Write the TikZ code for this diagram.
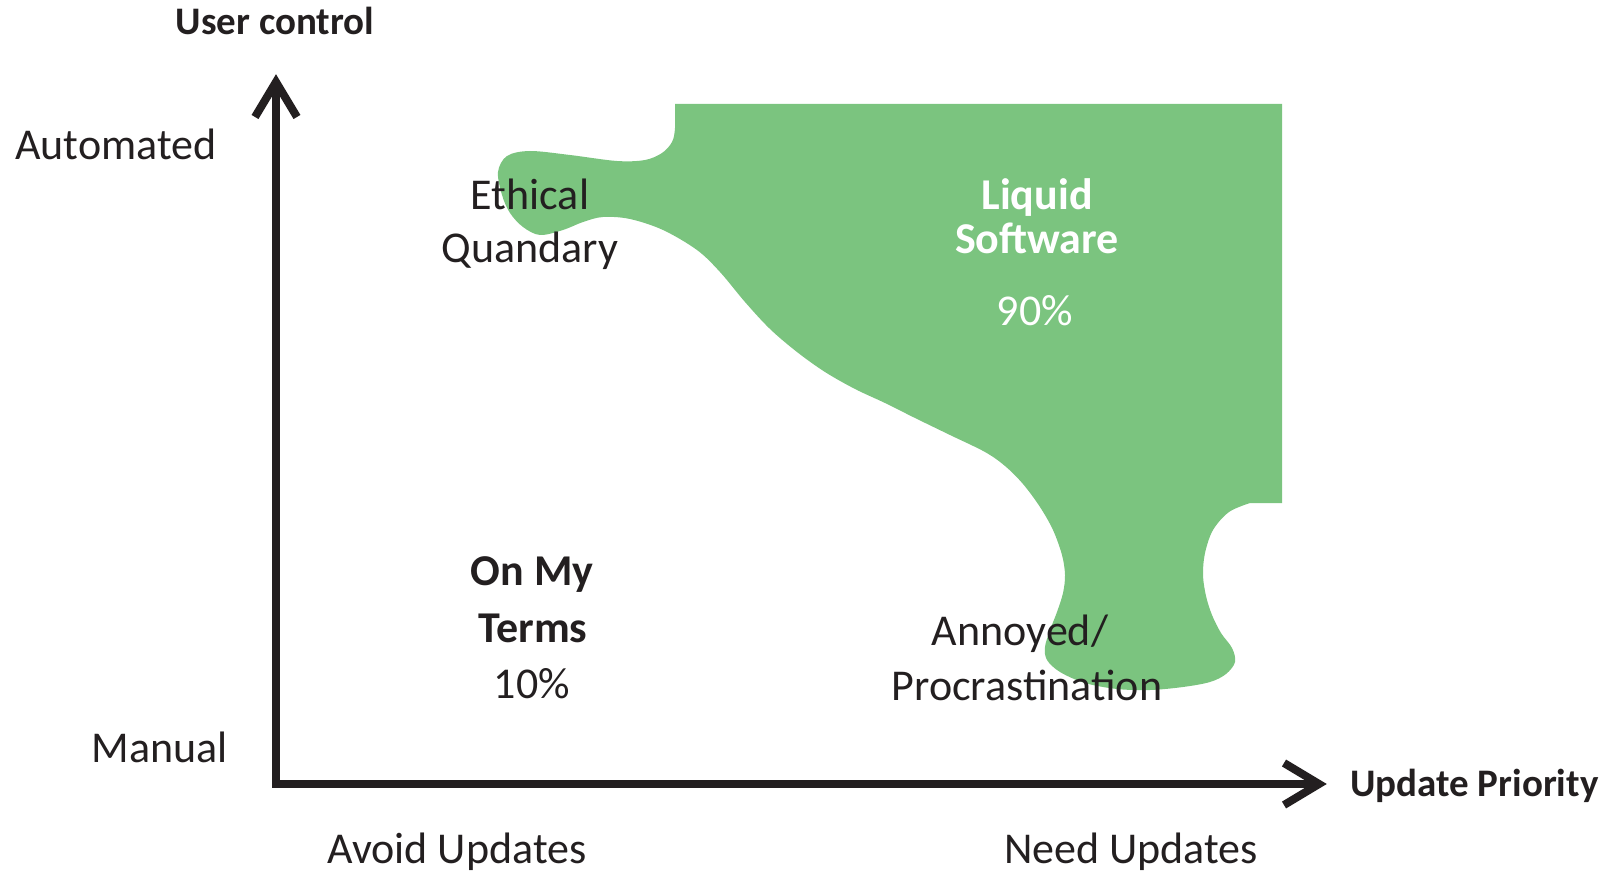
\documentclass[tikz,border=0pt]{standalone}
\usepackage{fontspec}
\setmainfont{Carlito}
\definecolor{ink}{RGB}{35,31,32}
\definecolor{liquid}{RGB}{123,196,127}
\begin{document}
\begin{tikzpicture}[x=1pt,y=-1pt,
  lbl/.style={anchor=base, inner sep=0pt, text=ink, font=\fontsize{44}{53}\selectfont},
  blbl/.style={lbl, font=\fontsize{44}{53}\selectfont\bfseries},
  axtitle/.style={lbl, font=\fontsize{39}{47}\selectfont\bfseries},
  axisline/.style={draw=ink, line width=8pt, line join=miter},
]
\useasboundingbox (0,0) rectangle (1608,874);

% green region
\fill[liquid] (675,104) -- (1282,104) -- (1282,503) -- plot[smooth, tension=0.55] coordinates {
 (1250,503) (1229,512) (1213,530) (1205,553) (1203,575) (1206,596) (1212,615) (1221,633)
 (1232,648) (1235,662) (1226,674) (1210,682) (1183,687) (1150,690) (1117,689) (1085,683)
 (1060,672) (1047,660) (1045,647) (1050,630) (1057,612) (1063,593) (1065,575) (1062,555)
 (1053,530) (1040,507) (1023,484) (1005,466) (985,452) (950,435) (915,418) (885,403)
 (855,389) (825,372) (797,352) (770,329) (745,302) (720,272) (697,250) (663,230) (630,219)
 (603,217) (583,222) (563,230) (540,235) (523,227) (510,213) (502,195) (498,172)
 (507,156) (530,151) (570,155) (617,161) (645,160) (662,153) (672,142) (675,128) (675,104)
} -- cycle;

% axes
\coordinate (o) at (276,784);
\coordinate (ytip) at (276,82);
\coordinate (xtip) at (1319,784);
\draw[axisline] (ytip) -- (o) -- (xtip);
\draw[axisline] ([shift={(-21,35)}]ytip) -- (ytip) -- ([shift={(21,35)}]ytip);
\draw[axisline] ([shift={(-35,-21)}]xtip) -- (xtip) -- ([shift={(-35,21)}]xtip);

% axis labels
\node[axtitle] (ytitle) at (275,35) {User control};
\node[axtitle, anchor=base west] (xtitle) at (1350,796) {Update Priority};
\node[lbl] (auto) at (116,160) {Automated};
\node[lbl] (manual) at (160,762) {Manual};
\node[lbl] (avoid) at (457,863) {Avoid Updates};
\node[lbl] (need) at (1131,863) {Need Updates};

% quadrant labels
\node[lbl] (eth1) at (530,210) {Ethical};
\node[lbl] (eth2) at (530,263) {Quandary};
\node[blbl, text=white] (liq1) at (1037,210) {Liquid};
\node[blbl, text=white] (liq2) at (1037,254) {Software};
\node[lbl, text=white] (liq3) at (1035,326) {90\%};
\node[blbl] (own1) at (532,585) {On My};
\node[blbl] (own2) at (533,642) {Terms};
\node[lbl] (own3) at (532,698) {10\%};
\node[lbl] (ann1) at (1020,645) {Annoyed/};
\node[lbl] (ann2) at (1027,700) {Procrastination};
\end{tikzpicture}
\end{document}
